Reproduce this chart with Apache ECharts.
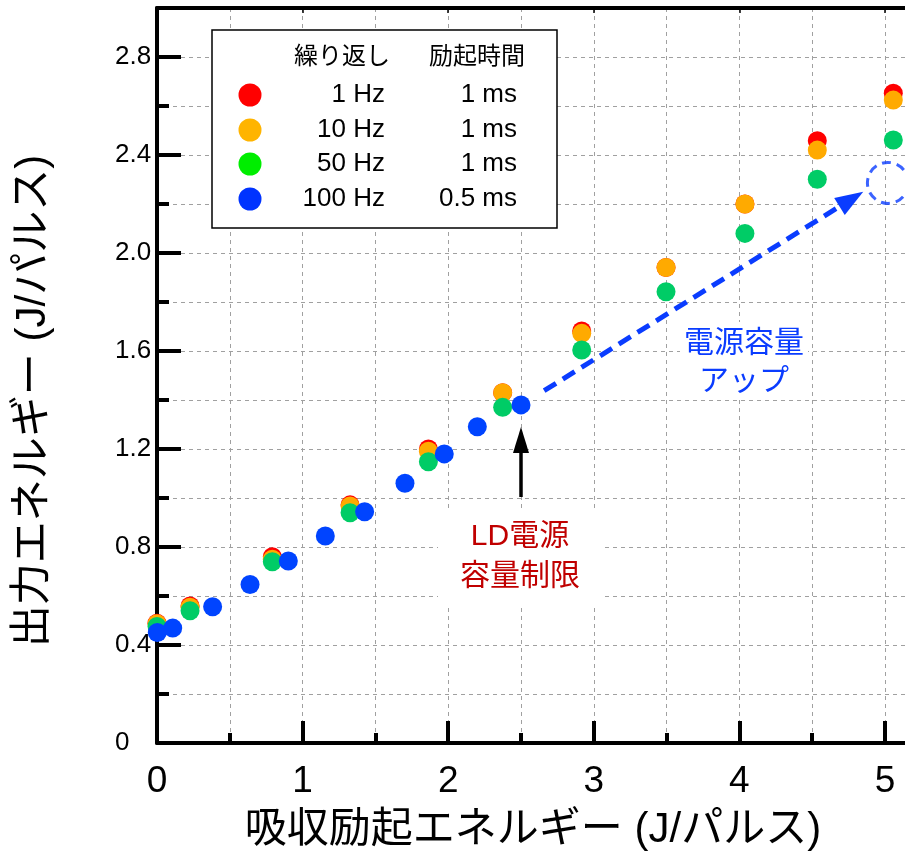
<!DOCTYPE html>
<html><head><meta charset="utf-8">
<script src="https://cdn.jsdelivr.net/npm/echarts@6/dist/echarts.min.js"></script>
<style>html,body{margin:0;padding:0;background:#fff}#c{width:905px;height:855px}</style>
</head><body><div id="c"></div>
<script>
// ---- data ----
const xAbs      = [0.000, 0.227, 0.792, 1.326, 1.864, 2.374, 2.917, 3.496, 4.038, 4.535, 5.057];
const out1Hz    = [0.489, 0.559, 0.760, 0.972, 1.200, 1.430, 1.682, 1.941, 2.200, 2.458, 2.652];
const out10Hz   = [0.487, 0.554, 0.750, 0.967, 1.191, 1.430, 1.672, 1.941, 2.200, 2.420, 2.624];
const out50Hz   = [0.476, 0.540, 0.740, 0.940, 1.148, 1.370, 1.604, 1.842, 2.080, 2.301, 2.461];
const xAbs100   = [0.002, 0.108, 0.382, 0.639, 0.902, 1.156, 1.426, 1.703, 1.973, 2.200, 2.500];
const out100Hz  = [0.451, 0.469, 0.556, 0.647, 0.743, 0.845, 0.944, 1.060, 1.180, 1.291, 1.380];

const repRates  = ['1 Hz', '10 Hz', '50 Hz', '100 Hz'];
const pumpTimes = ['1 ms', '1 ms', '1 ms', '0.5 ms'];
const legendHeader = ['繰り返し', '励起時間'];
const xTitle = '吸収励起エネルギー (J/パルス)';
const yTitle = '出力エネルギー (J/パルス)';

// annotations (data space)
const targetCircle = [[5.02, 2.286]];
const upArrow = [[2.659, 1.438], [4.769, 2.220]];
const limitArrow = [[2.5, 1.004], [2.5, 1.237]];

const plotColors = ['#ff0000', '#ffaa00', '#00cc66', '#0044ff'];
const legendColors = ['#ff0000', '#ffb400', '#00ee00', '#0033ff'];

const zip = (xs, ys) => xs.map((x, i) => [x, ys[i]]);

const LAT = "'Liberation Sans','Noto Sans CJK JP',sans-serif";
const CJK = "'Noto Sans CJK JP','Liberation Sans',sans-serif";

const chart = echarts.init(document.getElementById('c'));
const gridDash = { color: '#a0a0a0', width: 1, type: [4, 4] };
const W = 6 * 145.6;

function scatter(name, data, color) {
  return { name, type: 'scatter', data, symbol: 'circle', symbolSize: 19, clip: false,
    itemStyle: { color, opacity: 1 }, silent: true };
}

const legendEls = [];
legendEls.push({ type: 'rect', shape: { x: 212, y: 30, width: 345, height: 198 },
  style: { fill: '#fff', stroke: '#000', lineWidth: 1.5 }, z: 10 });
legendEls.push({ type: 'text', x: 390, y: 55, z: 11, style: { text: legendHeader[0], font: '24px ' + CJK, fill: '#000', align: 'right', verticalAlign: 'middle' } });
legendEls.push({ type: 'text', x: 525, y: 55, z: 11, style: { text: legendHeader[1], font: '24px ' + CJK, fill: '#000', align: 'right', verticalAlign: 'middle' } });
const rowY = [95, 130, 164, 199];
repRates.forEach((r, i) => {
  legendEls.push({ type: 'circle', shape: { cx: 250, cy: rowY[i], r: 11.5 }, style: { fill: legendColors[i] }, z: 11 });
  legendEls.push({ type: 'text', x: 385, y: rowY[i], z: 11, style: { text: r, font: '26px ' + LAT, fill: '#000', align: 'right', verticalAlign: 'middle' } });
  legendEls.push({ type: 'text', x: 517, y: rowY[i], z: 11, style: { text: pumpTimes[i], font: '26px ' + LAT, fill: '#000', align: 'right', verticalAlign: 'middle' } });
});

const option = {
  animation: false,
  backgroundColor: '#fff',
  grid: { left: 157, top: 8, width: W, height: 735, show: false, containLabel: false, outerBoundsMode: 'none' },
  xAxis: [
    { type: 'value', position: 'bottom', min: 0, max: 6, interval: 1,
      axisLine: { show: true, onZero: false, lineStyle: { color: '#000', width: 4 } },
      axisTick: { show: true, inside: true, length: 22, lineStyle: { color: '#000', width: 4 } },
      minorTick: { show: true, splitNumber: 2, length: 10, lineStyle: { color: '#000', width: 4 } },
      axisLabel: { show: true, margin: 20, color: '#000', fontSize: 37,
        fontFamily: "'Liberation Sans Narrow','Liberation Sans',sans-serif",
        formatter: v => (v > 5.5 ? '' : String(Math.round(v))) },
      splitLine: { show: true, lineStyle: gridDash },
      minorSplitLine: { show: true, lineStyle: gridDash } },
    { type: 'value', position: 'top', min: 0, max: 6, interval: 1,
      axisLine: { show: true, onZero: false, lineStyle: { color: '#000', width: 4 } },
      axisTick: { show: true, inside: true, length: 5, lineStyle: { color: '#000', width: 1.5 } },
      axisLabel: { show: false }, splitLine: { show: false } }
  ],
  yAxis: [
    { type: 'value', position: 'left', min: 0, max: 3.0, interval: 0.4,
      axisLine: { show: true, onZero: false, lineStyle: { color: '#000', width: 4 } },
      axisTick: { show: true, inside: true, length: 24, lineStyle: { color: '#000', width: 4 } },
      minorTick: { show: true, splitNumber: 2, length: 12, lineStyle: { color: '#000', width: 4 } },
      axisLabel: { show: true, align: 'left', margin: 42, color: '#000', fontSize: 26, fontFamily: LAT,
        formatter: v => { const k = Math.round(v * 10); if (k % 4 !== 0 || k > 28) return ''; return k === 0 ? '0' : (k / 10).toFixed(1); } },
      splitLine: { show: true, lineStyle: gridDash },
      minorSplitLine: { show: true, lineStyle: gridDash } }
  ],
  series: [
    scatter('1 Hz', zip(xAbs, out1Hz), plotColors[0]),
    scatter('10 Hz', zip(xAbs, out10Hz), plotColors[1]),
    scatter('50 Hz', zip(xAbs, out50Hz), plotColors[2]),
    scatter('100 Hz', zip(xAbs100, out100Hz), plotColors[3]),
    { name: 'target', type: 'scatter', data: targetCircle, symbol: 'circle', symbolSize: 41, clip: false, silent: true,
      itemStyle: { color: 'rgba(0,0,0,0)', borderColor: '#0a3cff', borderWidth: 3, borderType: [9, 6] },
      markLine: { silent: true, animation: false, symbol: ['none', 'triangle'], symbolSize: [20, 28],
        label: { show: false }, lineStyle: { color: '#0a3cff', width: 5, type: [14, 8] },
        emphasis: { disabled: true },
        data: [[{ coord: upArrow[0] }, { coord: upArrow[1] }]] } },
    { name: 'limit', type: 'scatter', data: [], silent: true,
      markLine: { silent: true, animation: false, symbol: ['none', 'triangle'], symbolSize: [16, 26],
        label: { show: false }, lineStyle: { color: '#000', width: 3.5, type: 'solid' },
        emphasis: { disabled: true },
        data: [[{ coord: limitArrow[0] }, { coord: limitArrow[1] }]] } }
  ],
  graphic: [
    ...legendEls,
    { type: 'text', x: 533, y: 830, z: 10, style: { text: xTitle, font: '42px ' + LAT, fill: '#000', align: 'center', verticalAlign: 'middle' } },
    { type: 'text', x: 33, y: 401, rotation: Math.PI / 2, z: 10, style: { text: yTitle, font: '42px ' + LAT, fill: '#000', align: 'center', verticalAlign: 'middle' } },
    { type: 'text', x: 520, y: 557, z: 10, style: { text: 'LD電源\n容量制限', font: '30px ' + LAT, lineHeight: 40, fill: '#c00000', align: 'center', verticalAlign: 'middle', backgroundColor: '#fff', padding: [9, 22] } },
    { type: 'text', x: 744, y: 360, z: 10, style: { text: '電源容量\nアップ', font: '30px ' + CJK, lineHeight: 38, fill: '#0a3cff', align: 'center', verticalAlign: 'middle', backgroundColor: '#fff', padding: [0, 4] } }
  ]
};
chart.setOption(option);
</script></body></html>
